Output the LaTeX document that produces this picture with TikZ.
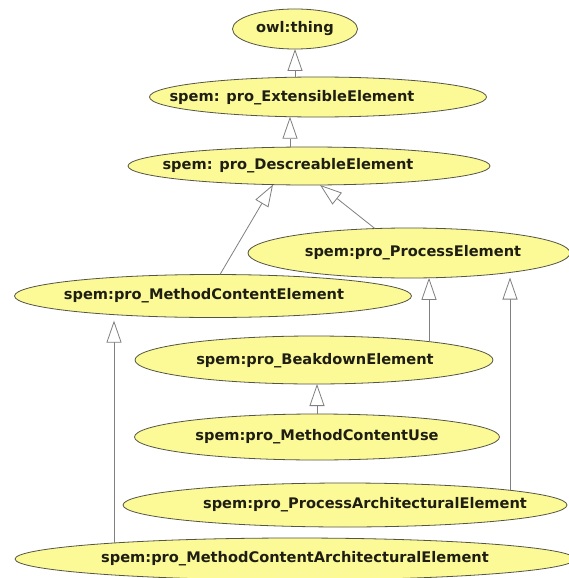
\documentclass[tikz,border=0pt]{standalone}
\usepackage{fontspec}
\setmainfont{DejaVu Sans}
\usetikzlibrary{shapes.geometric,arrows.meta,calc}
\definecolor{elfill}{RGB}{252,250,150}
\definecolor{eldraw}{RGB}{85,85,70}
\definecolor{eltext}{RGB}{30,30,20}
\definecolor{inhcol}{RGB}{128,128,128}
\tikzset{
  el/.style={ellipse, draw=eldraw, fill=elfill, line width=0.8pt, inner sep=0pt, outer sep=0pt},
  lbl/.style={inner sep=0pt, text=eltext, font=\fontsize{14.6}{16}\selectfont\bfseries},
  inh/.style={draw=inhcol, line width=0.8pt, -{Triangle[open, length=22pt, width=15pt, fill=white]}}
}
\begin{document}
\begin{tikzpicture}[x=1pt,y=-1pt]
\useasboundingbox (0,0) rectangle (569,578);
\fill[white] (0,0) rectangle (569,578);

% ellipses
\node[el, minimum width=125pt, minimum height=40pt] (thing) at (295,29) {};
\node[el, minimum width=337pt, minimum height=40pt] (ext) at (318,97) {};
\node[el, minimum width=362pt, minimum height=38pt] (desc) at (309,166) {};
\node[el, minimum width=322pt, minimum height=50pt] (proc) at (409,253) {};
\node[el, minimum width=397pt, minimum height=43pt] (mce) at (213,296) {};
\node[el, minimum width=358pt, minimum height=48pt] (brk) at (314,360) {};
\node[el, minimum width=365pt, minimum height=46pt] (mcu) at (317,437) {};
\node[el, minimum width=444pt, minimum height=44pt] (pa) at (345,505) {};
\node[el, minimum width=560pt, minimum height=42pt] (mcae) at (295,559) {};

% labels
\node[lbl] (thingT) at (295,29) {owl:thing};
\node[lbl] (extT) at (292,98) {spem: pro\_ExtensibleElement};
\node[lbl] (descT) at (288,166) {spem: pro\_DescreableElement};
\node[lbl] (procT) at (413,253) {spem:pro\_ProcessElement};
\node[lbl] (mceT) at (204,296) {spem:pro\_MethodContentElement};
\node[lbl] (brkT) at (315,361) {spem:pro\_BeakdownElement};
\node[lbl] (mcuT) at (317,437) {spem:pro\_MethodContentUse};
\node[lbl] (paT) at (365,505) {spem:pro\_ProcessArchitecturalElement};
\node[lbl] (mcaeT) at (295,559) {spem:pro\_MethodContentArchitecturalElement};

% inheritance connectors
\draw[inh] (thing.south |- ext.north) -- (thing.south);
\draw[inh] ($(desc)+(-19,-18.9)$) -- ($(ext)+(-28,19.7)$);
\draw[inh] ($(mce)+(7,-21.5)$) -- ($(desc)+(-36,18.6)$);
\draw[inh] ($(proc)+(-34,-24.4)$) -- ($(desc)+(11,19)$);
\draw[inh] ($(brk)+(115,-18.4)$) -- ($(proc)+(20,24.8)$);
\draw[inh, shorten >=5pt] ($(pa)+(165,-14.7)$) -- ($(proc)+(101,19.5)$);
\draw[inh] (mcu.north) -- ($(brk)+(3,24)$);
\draw[inh, shorten >=6pt] ($(mcae)+(-181,-16)$) -- ($(mce)+(-99,18.6)$);
\end{tikzpicture}
\end{document}
